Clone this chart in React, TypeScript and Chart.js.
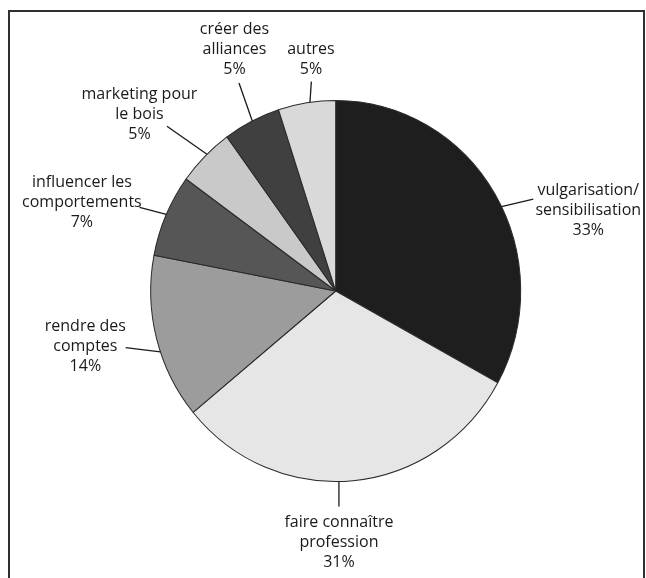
import React, { useEffect, useRef } from "react";
import { Chart, registerables } from "chart.js";

Chart.register(...registerables);

// ---- data ----
const categories = [
  "vulgarisation/sensibilisation",
  "faire connaître profession",
  "rendre des comptes",
  "influencer les comportements",
  "marketing pour le bois",
  "créer des alliances",
  "autres",
];
const labelLines = [
  ["vulgarisation/", "sensibilisation"],
  ["faire connaître", "profession"],
  ["rendre des", "comptes"],
  ["influencer les", "comportements"],
  ["marketing pour", "le bois"],
  ["créer des", "alliances"],
  ["autres"],
];
const values = [33, 31, 14, 7, 5, 5, 5];
const sliceColors = ["#1e1e1e", "#e6e6e6", "#9c9c9c", "#565656", "#c9c9c9", "#404040", "#d9d9d9"];

// ---- label layout (annotation offsets) ----
const leaderShiftDeg = [4.3, 4.4, -4.2, 0.3, 0.9, 0.2, 1];
const leaderVec = [[31.7, -7.5], [0, 25], [-34.7, -4.2], [-26.7, -7], [-40, -28], [-13.3, -38], [1.4, -20.7]];
const textOffset = [[55, -8.3], [0, 16.3], [-40.3, -21.5], [-57.7, -24.7], [-27.5, -31.7], [-4.5, -53.4], [-0.4, -31.7]];
const Y_STRETCH = 1.03;
const FONT = '16px "Open Sans", "Noto Sans", sans-serif';
const LINE_H = 20;

const piePlugin = {
  id: "piePlugin",
  beforeDatasetsDraw(chart: any) {
    const meta = chart.getDatasetMeta(0);
    const arc = meta.data[0];
    if (!arc) return;
    const ctx = chart.ctx;
    ctx.save();
    ctx.translate(arc.x, arc.y);
    ctx.scale(1, Y_STRETCH);
    ctx.translate(-arc.x, -arc.y);
  },
  afterDatasetsDraw(chart: any) {
    const ctx = chart.ctx;
    ctx.restore();
    const meta = chart.getDatasetMeta(0);
    ctx.save();
    meta.data.forEach((el: any, i: number) => {
      const mid = (el.startAngle + el.endAngle) / 2 + (leaderShiftDeg[i] * Math.PI) / 180;
      const r = el.outerRadius;
      const sx = el.x + r * Math.cos(mid);
      const sy = el.y + r * Y_STRETCH * Math.sin(mid);
      const ex = sx + leaderVec[i][0];
      const ey = sy + leaderVec[i][1];
      ctx.strokeStyle = "#1a1a1a";
      ctx.lineWidth = 1.3;
      ctx.beginPath();
      ctx.moveTo(sx, sy);
      ctx.lineTo(ex, ey);
      ctx.stroke();
      const tx = ex + textOffset[i][0];
      const ty = ey + textOffset[i][1];
      const lines = [...labelLines[i], `${values[i]}%`];
      ctx.fillStyle = "#1a1a1a";
      ctx.font = FONT;
      ctx.textAlign = "center";
      ctx.textBaseline = "middle";
      lines.forEach((t, k) => ctx.fillText(t, tx, ty + k * LINE_H));
    });
    ctx.restore();
  },
  afterDraw(chart: any) {
    const ctx = chart.ctx;
    ctx.save();
    ctx.strokeStyle = "#303030";
    ctx.lineWidth = 2;
    ctx.strokeRect(9, 11, 635, 620);
    ctx.restore();
  },
};

export default function App() {
  const ref = useRef<HTMLCanvasElement>(null);
  useEffect(() => {
    document.body.style.margin = "0";
    const chart = new Chart(ref.current!, {
      type: "pie",
      data: {
        labels: categories,
        datasets: [
          {
            data: values,
            backgroundColor: sliceColors,
            borderColor: "#2a2a2a",
            borderWidth: 1,
          },
        ],
      },
      options: {
        responsive: false,
        animation: false,
        layout: { padding: { left: 150.2, right: 124.8, top: 105.5, bottom: 101.5 } },
        plugins: { legend: { display: false }, tooltip: { enabled: false } },
      },
      plugins: [piePlugin],
    });
    return () => chart.destroy();
  }, []);
  return (
    <div style={{ width: 646, height: 578, background: "#fff" }}>
      <canvas ref={ref} width={646} height={578} style={{ display: "block" }} />
    </div>
  );
}
